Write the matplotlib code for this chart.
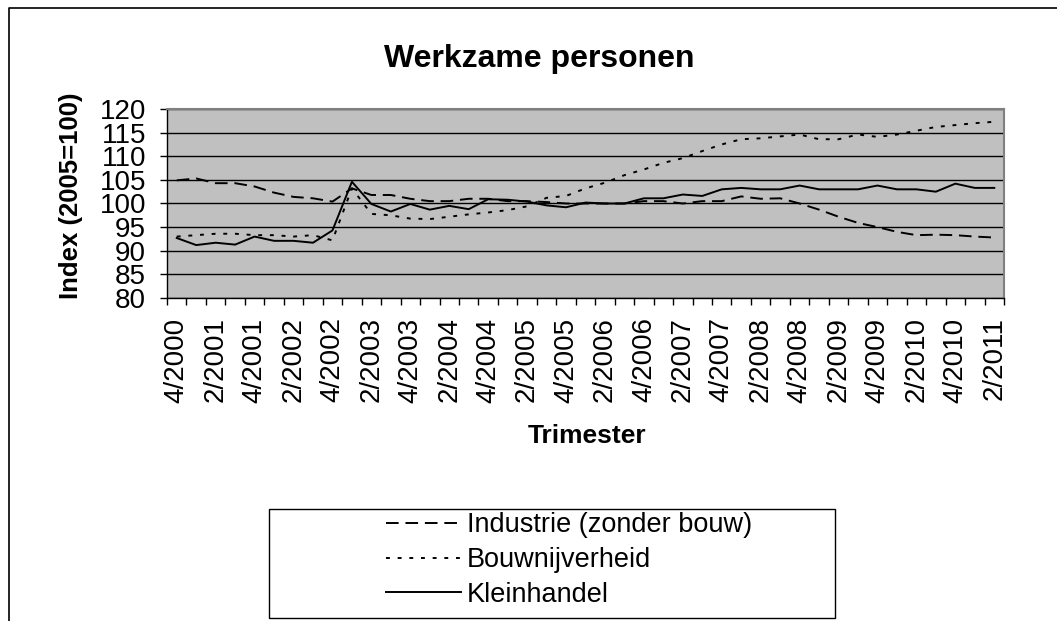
import matplotlib
matplotlib.use("Agg")
import matplotlib.pyplot as plt
from matplotlib.lines import Line2D
from matplotlib.patches import Rectangle

plt.rcParams["font.family"] = ["Liberation Sans", "DejaVu Sans"]

# quarters 4/2000 .. 2/2011
quarters = ["4/2000"] + [f"{q}/{y}" for y in range(2001, 2011) for q in range(1, 5)] + ["1/2011", "2/2011"]

industrie = [104.9, 105.3, 104.3, 104.3, 103.6, 102.3, 101.4, 101.1, 100.4, 103.2,
             101.8, 101.8, 101.0, 100.5, 100.5, 101.0, 101.0, 100.5, 100.5, 100.3,
             100.0, 100.0, 100.0, 100.0, 100.5, 100.5, 100.0, 100.5, 100.5, 101.5,
             101.0, 101.1, 100.0, 98.7, 97.2, 95.9, 95.0, 94.0, 93.3, 93.4,
             93.3, 93.0, 92.8]
bouw = [93.0, 93.3, 93.6, 93.6, 93.3, 93.3, 93.0, 93.3, 92.2, 103.2,
        97.8, 97.5, 96.8, 96.7, 97.2, 97.7, 98.1, 98.6, 99.4, 101.2,
        101.6, 103.2, 104.4, 106.0, 107.2, 108.6, 109.6, 111.1, 112.5, 113.6,
        113.8, 114.2, 114.6, 113.6, 113.6, 114.6, 114.1, 114.6, 115.4, 116.2,
        116.6, 117.0, 117.3]
klein = [92.7, 91.2, 91.7, 91.3, 93.0, 92.1, 92.1, 91.7, 94.3, 104.6,
         99.9, 98.3, 99.9, 98.7, 99.5, 98.8, 100.9, 100.8, 100.4, 99.6,
         99.2, 100.2, 100.0, 100.0, 101.1, 101.1, 101.9, 101.6, 103.0, 103.3,
         103.0, 103.0, 103.8, 103.0, 103.0, 103.0, 103.8, 103.0, 103.0, 102.5,
         104.2, 103.3, 103.3]
names = ["Industrie (zonder bouw)", "Bouwnijverheid", "Kleinhandel"]

W, H = 1057, 621
fig = plt.figure(figsize=(W / 100, H / 100), dpi=100)
ax = fig.add_axes([167 / W, 1 - 298 / H, (1004 - 167) / W, (298 - 109) / H])
ax.set_facecolor("#C0C0C0")

x = list(range(len(quarters)))
l1, = ax.plot(x, industrie, color="black", lw=1.4, linestyle=(0, (6.5, 3.5)))
l2, = ax.plot(x, bouw, color="black", lw=1.4, linestyle=(0, (2, 4)))
l3, = ax.plot(x, klein, color="black", lw=1.4)

ax.set_xlim(-0.5, len(quarters) - 0.5)
ax.set_ylim(80, 120)
ax.set_yticks(range(80, 121, 5))
ax.yaxis.grid(True, color="black", lw=1)
ax.set_axisbelow(True)

ax.set_xticks(x[::2])
ax.set_xticklabels(quarters[::2], rotation=90, va="top", ha="center")
ax.set_xticks([i - 0.5 for i in range(len(quarters) + 1)], minor=True)
ax.tick_params(axis="x", which="major", length=0, pad=14, labelsize=20)
ax.tick_params(axis="x", which="minor", length=5, width=1, direction="out")
ax.tick_params(axis="y", length=5, width=1, direction="out", pad=10, labelsize=20)

for s in ["left", "bottom"]:
    ax.spines[s].set_color("black")
    ax.spines[s].set_linewidth(1)
for s in ["top", "right"]:
    ax.spines[s].set_color("#808080")
    ax.spines[s].set_linewidth(1.5)

fig.text(539 / W, 1 - 67 / H, "Werkzame personen", fontsize=23, fontweight="bold",
         ha="center", va="baseline")
fig.text(71 / W, 1 - 196 / H, "Index (2005=100)", fontsize=18.5, fontweight="bold",
         rotation=90, ha="center", va="center")
fig.text(587 / W, 1 - 436 / H, "Trimester", fontsize=19, fontweight="bold",
         ha="center", va="center")

# legend box
fig.patches.append(Rectangle((269 / W, 1 - 618 / H), (835 - 269) / W, (618 - 509) / H,
                             transform=fig.transFigure, fill=False, edgecolor="black", lw=1))
fig.legend([l1, l2, l3], names, loc="center left", bbox_to_anchor=(372 / W, 1 - 560 / H),
           frameon=False, fontsize=19.5, handlelength=2.8, handletextpad=0.2,
           labelspacing=0.32, borderpad=0)

# outer chart border (left and top edges)
fig.lines.append(Line2D([9 / W, 9 / W, 1], [0, 1 - 8 / H, 1 - 8 / H],
                        transform=fig.transFigure, color="black", lw=1.2))

fig.savefig("out.png", dpi=100)
